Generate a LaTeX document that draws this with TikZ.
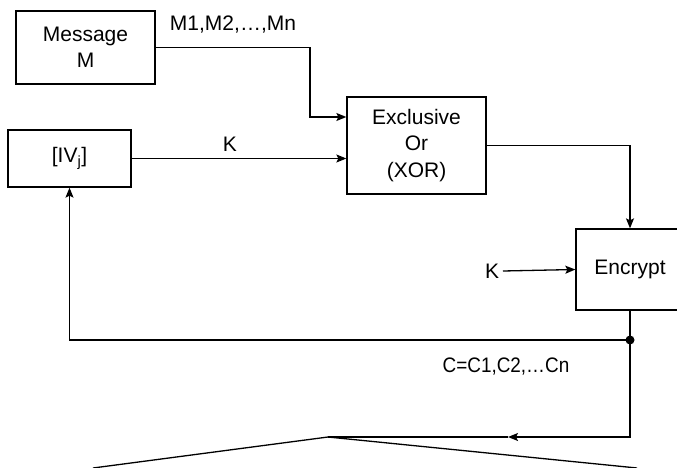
\documentclass[tikz,border=0pt]{standalone}
\usepackage{fontspec}
\setmainfont{Liberation Sans}
\usetikzlibrary{arrows.meta}

\begin{document}
\begin{tikzpicture}[x=1pt,y=-1pt,line width=1.3pt,
  font=\fontsize{21}{26.5}\selectfont,
  box/.style={draw,rectangle,align=center,inner sep=0pt},
  arr/.style={-{Stealth[length=10pt,width=8pt,inset=2pt]}}]
  \useasboundingbox (0,0) rectangle (677,468);

  \node[box,minimum width=139pt,minimum height=73pt] (msg) at (85.5,47.5) {Message\\M};
  \node[box,minimum width=123pt,minimum height=57pt] (iv) at (69.5,158.5) {[IV\textsubscript{j}]};
  \node[box,minimum width=139pt,minimum height=97pt] (xor) at (416.5,145.5) {Exclusive\\Or\\(XOR)};
  \node[box,minimum width=108pt,minimum height=81pt] (enc) at (630,269.5) {Encrypt};

  \node (mlab) at (233,25) {M1,M2,…,Mn};
  \node (klab) at (230,144) {K};
  \node (k2) at (492,271) {K};
  \node[xscale=0.9] (clab) at (506,367) {C=C1,C2,…Cn};

  \coordinate (bend) at (310,117);
  \coordinate (fb) at (630,340);
  \coordinate (tip) at (508,437);
  \coordinate (apex) at (328,437);
  \coordinate (lft) at (93,468);
  \coordinate (rgt) at (637,468);

  \draw[arr] (msg.east) -| (bend) -- (bend -| xor.west);
  \draw[arr] (iv.east) -- (iv.east -| xor.west);
  \draw[arr] (xor.east) -| (enc.north);
  \draw[arr] (k2.east) -- (enc.west);
  \draw (enc.south) -- (fb);
  \fill (fb) circle (4.5pt);
  \draw[arr] (fb) -| (iv.south);
  \draw[arr] (fb) |- (tip);
  \draw (tip) -- (apex);
  \draw (lft) -- (apex) -- (rgt);
\end{tikzpicture}
\end{document}
